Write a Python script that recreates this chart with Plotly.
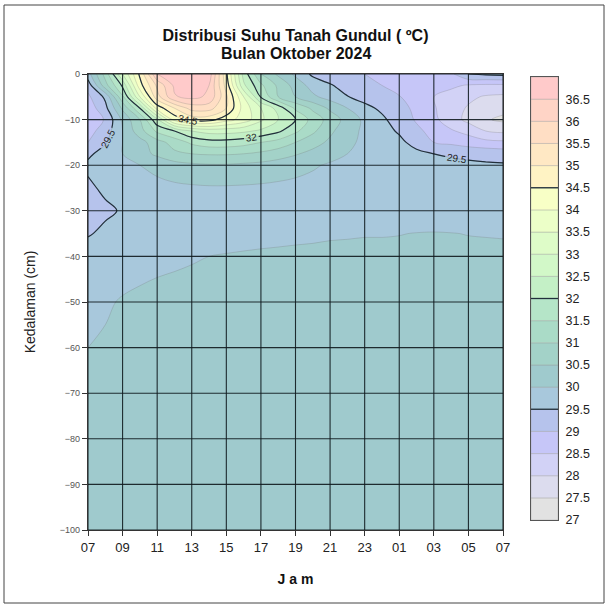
import plotly.graph_objects as go

# ---------------- data ----------------
hours = list(range(25))  # hours after 07:00
hour_ticks = [0, 2, 4, 6, 8, 10, 12, 14, 16, 18, 20, 22, 24]
hour_labels = ["07", "09", "11", "13", "15", "17", "19", "21", "23", "01", "03", "05", "07"]
depth_ticks = [0, -10, -20, -30, -40, -50, -60, -70, -80, -90, -100]

depths = [0, -2.5, -5, -7.5, -10, -12.5, -15, -17.5, -20, -25, -30, -35, -40, -50, -60, -70, -80, -100]

t_0 = [29.8, 31.2, 33.0, 34.6, 36.5, 36.8, 36.9, 36.8, 34.6, 32.3, 31.0, 30.4, 29.9, 29.4, 29.2, 29.1, 29.0, 28.95, 28.9, 28.85, 28.8, 28.9, 29.5, 29.6, 29.65]
t_2_5 = [29.2, 30.8, 32.1, 34.3, 35.6, 36.6, 36.8, 36.5, 34.8, 32.6, 31.6, 30.9, 30.3, 29.8, 29.55, 29.3, 29.15, 29.0, 28.9, 28.8, 28.7, 28.6, 28.45, 28.4, 28.4]
t_5 = [28.9, 29.6, 31.4, 33.5, 35.3, 36.45, 36.65, 36.4, 35.1, 33.5, 31.95, 31.0, 30.5, 30.1, 29.8, 29.52, 29.3, 29.15, 29.02, 28.75, 28.5, 28.3, 28.1, 27.95, 27.9]
t_7_5 = [28.7, 29.35, 30.6, 32.0, 34.2, 35.0, 35.7, 35.7, 35.0, 33.8, 33.0, 32.3, 31.4, 30.9, 30.4, 30.0, 29.65, 29.4, 29.15, 28.9, 28.55, 28.2, 27.95, 27.7, 27.65]
t_10 = [28.6, 29.05, 30.1, 31.0, 32.4, 34.2, 34.7, 34.7, 34.2, 33.8, 33.1, 32.5, 32.0, 31.3, 30.8, 30.3, 29.9, 29.6, 29.25, 28.95, 28.6, 28.25, 27.85, 27.55, 27.4]
t_12_5 = [28.8, 29.25, 30.0, 30.8, 31.6, 32.0, 32.5, 32.7, 32.7, 32.6, 32.4, 32.1, 31.6, 31.1, 30.6, 30.2, 29.9, 29.65, 29.45, 29.1, 28.85, 28.55, 28.35, 28.0, 27.9]
t_15 = [29.0, 29.45, 30.0, 30.3, 30.8, 31.2, 31.6, 31.8, 31.8, 31.7, 31.5, 31.3, 31.0, 30.7, 30.4, 30.1, 29.9, 29.75, 29.6, 29.35, 29.0, 28.9, 28.75, 28.65, 28.6]
t_17_5 = [29.4, 29.7, 30.0, 30.3, 30.6, 30.9, 31.0, 31.05, 31.05, 31.0, 30.9, 30.75, 30.55, 30.35, 30.15, 30.0, 29.85, 29.75, 29.65, 29.6, 29.5, 29.45, 29.4, 29.35, 29.3]
t_20 = [29.6, 29.7, 29.85, 30.0, 30.15, 30.3, 30.4, 30.45, 30.45, 30.4, 30.35, 30.25, 30.15, 30.05, 29.95, 29.85, 29.8, 29.75, 29.7, 29.65, 29.62, 29.6, 29.58, 29.56, 29.55]
t_25 = [29.4, 29.6, 29.7, 29.78, 29.85, 29.9, 29.93, 29.95, 29.95, 29.94, 29.92, 29.9, 29.88, 29.85, 29.82, 29.8, 29.78, 29.76, 29.74, 29.72, 29.7, 29.7, 29.68, 29.68, 29.67]
t_30 = [29.2, 29.4, 29.55, 29.65, 29.72, 29.77, 29.8, 29.82, 29.84, 29.85, 29.86, 29.87, 29.88, 29.88, 29.88, 29.88, 29.88, 29.88, 29.88, 29.88, 29.87, 29.86, 29.85, 29.84, 29.83]
t_35 = [29.45, 29.62, 29.7, 29.74, 29.78, 29.81, 29.84, 29.87, 29.9, 29.92, 29.94, 29.95, 29.96, 29.97, 29.98, 29.985, 29.99, 29.99, 29.995, 30.005, 30.01, 30.005, 29.995, 29.99, 29.985]
t_40 = [29.8, 29.85, 29.88, 29.91, 29.94, 29.96, 29.98, 30.0, 30.015, 30.025, 30.03, 30.035, 30.04, 30.04, 30.045, 30.045, 30.05, 30.05, 30.05, 30.05, 30.05, 30.05, 30.05, 30.05, 30.05]
t_50 = [29.93, 29.97, 30.02, 30.05, 30.07, 30.08, 30.09, 30.1, 30.1, 30.11, 30.11, 30.11, 30.12, 30.12, 30.12, 30.12, 30.12, 30.12, 30.12, 30.12, 30.12, 30.12, 30.12, 30.12, 30.12]
t_60 = [30.0, 30.03, 30.06, 30.08, 30.1, 30.12, 30.13, 30.14, 30.14, 30.15, 30.15, 30.15, 30.15, 30.15, 30.15, 30.15, 30.15, 30.15, 30.15, 30.15, 30.15, 30.15, 30.15, 30.15, 30.15]
t_70 = [30.05, 30.1, 30.12, 30.14, 30.15, 30.16, 30.17, 30.18, 30.18, 30.18, 30.18, 30.18, 30.18, 30.18, 30.18, 30.18, 30.18, 30.18, 30.18, 30.18, 30.18, 30.18, 30.18, 30.18, 30.18]
t_80 = [30.1, 30.15, 30.18, 30.2, 30.2, 30.2, 30.2, 30.2, 30.2, 30.2, 30.2, 30.2, 30.2, 30.2, 30.2, 30.2, 30.2, 30.2, 30.2, 30.2, 30.2, 30.2, 30.2, 30.2, 30.2]
t_100 = [30.2, 30.25, 30.28, 30.3, 30.3, 30.3, 30.3, 30.3, 30.3, 30.3, 30.3, 30.3, 30.3, 30.3, 30.3, 30.3, 30.3, 30.3, 30.3, 30.3, 30.3, 30.3, 30.3, 30.3, 30.3]

temperature = [t_0, t_2_5, t_5, t_7_5, t_10, t_12_5, t_15, t_17_5, t_20, t_25,
               t_30, t_35, t_40, t_50, t_60, t_70, t_80, t_100]

levels = [27, 27.5, 28, 28.5, 29, 29.5, 30, 30.5, 31, 31.5, 32, 32.5,
          33, 33.5, 34, 34.5, 35, 35.5, 36, 36.5, 37]
level_labels = ["27", "27.5", "28", "28.5", "29", "29.5", "30", "30.5", "31", "31.5",
                "32", "32.5", "33", "33.5", "34", "34.5", "35", "35.5", "36", "36.5"]
major_levels = [29.5, 32, 34.5]

title_line1 = "Distribusi Suhu Tanah Gundul ( ºC)"
title_line2 = "Bulan Oktober 2024"

band_colors = ["#E2E2E2", "#DCDCEE", "#D2D2F6", "#C6C6F8", "#B6C3EC", "#A8C8DC",
               "#9FCACD", "#A3D2C8", "#AADBC7", "#B5E5C8", "#C4F0C6", "#D2F8C8",
               "#DEFCC8", "#ECFFC8", "#F8FFC6", "#FFF3C4", "#FFE8C4", "#FFDEC4",
               "#FFD4C6", "#FFCACA"]

# ---------------- styling ----------------
FONT = "Arial, Liberation Sans, sans-serif"
W, H = 608, 607
ML, MR, MT, MB = 88, 40, 74, 77
pw = W - ML - MR
ph = H - MT - MB
main_right = (503 - ML) / pw
cb_left = (531 - ML) / pw
cb_right = (558 - ML) / pw
cb_top = (530 - 77) / ph
cb_bottom = (530 - 520) / ph

# stepped colorscale: band k (k=0 below first level, k=n+1 above last) at k/(n+1)
nlev = len(levels)
ext_colors = [band_colors[0]] + band_colors + [band_colors[-1]]
cs = []
for k, c in enumerate(ext_colors):
    lo = max(0.0, (k - 0.5) / nlev)
    hi = min(1.0, (k + 0.5) / nlev)
    cs.append([lo, c])
    cs.append([hi, c])

fig = go.Figure()

fig.add_trace(go.Contour(
    x=hours, y=depths, z=temperature,
    autocontour=False,
    contours=dict(start=levels[0], end=levels[-1], size=levels[1] - levels[0], coloring="fill"),
    colorscale=cs, showscale=False,
    line=dict(color="rgba(110,110,110,0.35)", width=0.7, smoothing=1.0),
    hoverinfo="skip",
))

fig.add_trace(go.Contour(
    x=hours, y=depths, z=temperature,
    autocontour=False,
    contours=dict(start=major_levels[0], end=major_levels[-1],
                  size=major_levels[1] - major_levels[0], coloring="none",
                  showlabels=True, labelfont=dict(size=10, color="#222", family=FONT)),
    line=dict(color="#22303c", width=1.2, smoothing=1.0),
    showscale=False, hoverinfo="skip",
))

# grid lines drawn above the field
gx, gy = [], []
for v in hour_ticks:
    gx += [v, v, None]
    gy += [depth_ticks[-1], depth_ticks[0], None]
for v in depth_ticks:
    gx += [hour_ticks[0], hour_ticks[-1], None]
    gy += [v, v, None]
fig.add_trace(go.Scatter(x=gx, y=gy, mode="lines",
                         line=dict(color="rgba(15,25,30,0.9)", width=1.1),
                         hoverinfo="skip", showlegend=False))

# legend bar (colour key)
for k, c in enumerate(band_colors):
    fig.add_trace(go.Bar(x=[0], y=[levels[k + 1] - levels[k]], base=[levels[k]],
                         width=1, marker=dict(color=c, line=dict(color="rgba(150,150,150,0.6)", width=0.6)),
                         xaxis="x2", yaxis="y2", hoverinfo="skip", showlegend=False))
for lv in major_levels:
    fig.add_trace(go.Scatter(x=[-0.5, 0.5], y=[lv, lv], mode="lines",
                             line=dict(color="#22303c", width=1.3),
                             xaxis="x2", yaxis="y2", hoverinfo="skip", showlegend=False))

fig.update_layout(
    width=W, height=H,
    margin=dict(l=ML, r=MR, t=MT, b=MB),
    paper_bgcolor="white", plot_bgcolor="white",
    showlegend=False, barmode="overlay",
    font=dict(family=FONT, color="#222"),
    title=dict(text=title_line1,
               x=main_right / 2, xref="paper", xanchor="center",
               y=1 - 35 / H, yref="container", yanchor="middle",
               font=dict(size=16, family=FONT, color="#111", weight="bold")),
    annotations=[dict(text=title_line2, x=main_right / 2, xref="paper", xanchor="center",
                      y=(H - MB - 53) / ph, yref="paper", yanchor="middle", showarrow=False,
                      font=dict(size=16, family=FONT, color="#111", weight="bold"))],
    xaxis=dict(domain=[0, main_right], range=[hour_ticks[0], hour_ticks[-1]],
               tickvals=hour_ticks, ticktext=hour_labels,
               tickfont=dict(size=13, color="#222"),
               ticks="outside", ticklen=5, tickcolor="#333",
               showgrid=False, zeroline=False,
               showline=True, mirror=True, linecolor="#333", linewidth=1.2,
               title=dict(text="<b>J a m</b>", font=dict(size=14, color="#111"), standoff=20)),
    yaxis=dict(range=[depth_ticks[-1], depth_ticks[0]], tickvals=depth_ticks,
               tickfont=dict(size=9, color="#555"),
               ticks="outside", ticklen=5, tickcolor="#333",
               showgrid=False, zeroline=False,
               showline=True, mirror=True, linecolor="#333", linewidth=1.2,
               title=dict(text="Kedalaman (cm)", font=dict(size=14, color="#222"), standoff=20)),
    xaxis2=dict(domain=[cb_left, cb_right], range=[-0.5, 0.5], anchor="y2",
                showticklabels=False, ticks="", showgrid=False, zeroline=False,
                showline=True, mirror=True, linecolor="#555", linewidth=1),
    yaxis2=dict(domain=[cb_bottom, cb_top], range=[levels[0], levels[-1]], anchor="x2",
                side="right", tickvals=levels[:-1], ticktext=level_labels,
                tickfont=dict(size=12.5, color="#222"), ticks="", ticklabelstandoff=4,
                showgrid=False, zeroline=False,
                showline=True, mirror=True, linecolor="#555", linewidth=1),
    shapes=[dict(type="rect", xref="paper", yref="paper",
                 x0=(4 - ML) / pw, x1=(604 - ML) / pw,
                 y0=(H - MB - 603) / ph, y1=(H - MB - 5) / ph,
                 line=dict(color="#444", width=1), fillcolor="rgba(0,0,0,0)", layer="below")],
)

fig.write_html("out.html", config={"displayModeBar": False},
               post_script="document.body.style.margin='0';")
